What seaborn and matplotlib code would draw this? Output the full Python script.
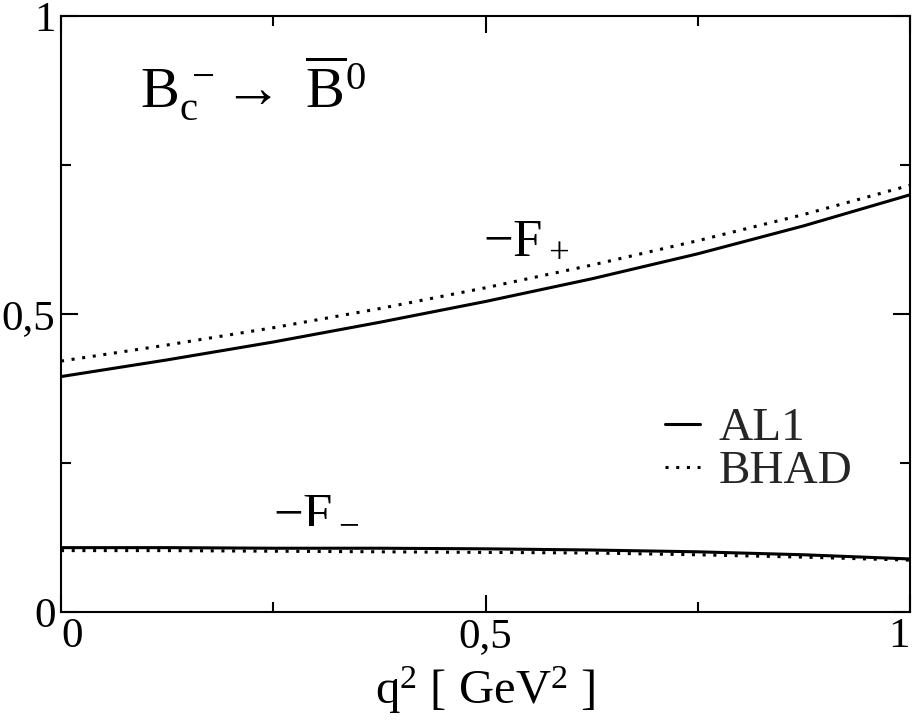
import numpy as np
import pandas as pd
import matplotlib
matplotlib.use("Agg")
import matplotlib.pyplot as plt
import seaborn as sns

# ---- data ----
q2 = [0.0, 0.125, 0.25, 0.375, 0.5, 0.625, 0.75, 0.875, 1.0]
fplus_al1 = [0.395, 0.423, 0.453, 0.486, 0.521, 0.559, 0.601, 0.648, 0.700]
fplus_bhad = [0.421, 0.448, 0.477, 0.509, 0.544, 0.582, 0.623, 0.667, 0.716]
fminus_al1 = [0.108, 0.108, 0.107, 0.107, 0.106, 0.104, 0.101, 0.096, 0.089]
fminus_bhad = [0.103, 0.103, 0.102, 0.101, 0.100, 0.099, 0.096, 0.092, 0.087]
tick_vals = [0, 0.5, 1]
tick_labels = ["0", "0,5", "1"]
models = ["AL1", "BHAD"]

sns.set_theme(style="ticks")
plt.rcParams["font.family"] = ["Liberation Serif", "DejaVu Serif"]
plt.rcParams["mathtext.fontset"] = "custom"
plt.rcParams["mathtext.rm"] = "Liberation Serif"
plt.rcParams["mathtext.it"] = "Liberation Serif"
plt.rcParams["mathtext.default"] = "regular"

rows = []
for name, vals, model in [("F+", fplus_al1, "AL1"), ("F+", fplus_bhad, "BHAD"),
                          ("F-", fminus_al1, "AL1"), ("F-", fminus_bhad, "BHAD")]:
    for x, v in zip(q2, vals):
        rows.append({"q2": x, "F": v, "ff": name, "model": model})
df = pd.DataFrame(rows)

fig = plt.figure(figsize=(9.21, 7.27), dpi=100)
ax = fig.add_axes([61/921, 1-612/727, 849/921, 596/727])

styles = {"AL1": dict(linestyle="-"), "BHAD": dict(linestyle=(0, (1, 2.5)), dash_capstyle="butt")}
for ff in ["F+", "F-"]:
    for m in models:
        sub = df[(df.ff == ff) & (df.model == m)]
        sns.lineplot(data=sub, x="q2", y="F", ax=ax, color="black", lw=2.2,
                     label=m if ff == "F+" else None, legend=False, **styles[m])

ax.set_xlim(0, 1)
ax.set_ylim(0, 1)
ax.set_xticks(tick_vals)
ax.set_xticklabels(tick_labels)
ax.set_yticks(tick_vals)
ax.set_yticklabels(tick_labels)
ax.set_xticks([0.25, 0.75], minor=True)
ax.set_yticks([0.25, 0.75], minor=True)
ax.tick_params(which="both", direction="in", top=True, right=True, width=1.5, color="black",
               labelsize=31, labelcolor="black")
ax.tick_params(which="major", length=12, pad=4)
ax.tick_params(which="minor", length=7)
xl = ax.get_xticklabels()
xl[0].set_horizontalalignment("left")
xl[-1].set_horizontalalignment("right")
for s in ax.spines.values():
    s.set_linewidth(1.5)
    s.set_color("black")
    s.set_visible(True)

ax.set_xlabel(r"$q^2$ [ GeV$^2$ ]", fontsize=35, color="black", labelpad=6)
ax.set_ylabel("")

ax.text(0.093, 0.847, r"$B_c^{\,-}\!\rightarrow\ \overline{B}^0$", fontsize=42, color="black",
        va="baseline", ha="left")
ax.text(0.497, 0.604, r"$-F_+$", fontsize=38, color="black", va="baseline", ha="left")
ax.text(0.250, 0.150, r"$-F_-$", fontsize=38, color="black", va="baseline", ha="left")

ax.legend(loc="upper left", bbox_to_anchor=(0.711, 0.344), frameon=False, fontsize=34,
          handlelength=0.75, handletextpad=0.4, labelspacing=0.0, borderpad=0, borderaxespad=0)

fig.savefig("out.png", dpi=100, facecolor="white")
